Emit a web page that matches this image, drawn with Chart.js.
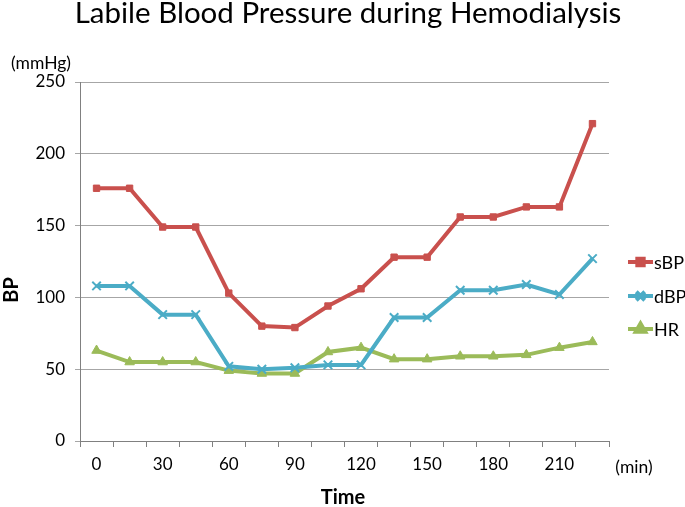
<!DOCTYPE html>
<html><head><meta charset="utf-8">
<script src="https://cdn.jsdelivr.net/npm/chart.js@4"></script>
<style>html,body{margin:0;padding:0;background:#fff}canvas{display:block}</style>
</head><body>
<canvas id="c" width="685" height="507"></canvas>
<script>
const timeLabels = ['0','15','30','45','60','75','90','105','120','135','150','165','180','195','210','225'];
const sBP = [176,176,149,149,103,80,79,94,106,128,128,156,156,163,163,221];
const dBP = [108,108,88,88,52,50,51,53,53,86,86,105,105,109,102,127];
const HR  = [63,55,55,55,49,47,47,62,65,57,57,59,59,60,65,69];
const yTicks = [0,50,100,150,200,250];

const FONT = 'Lato, "Open Sans", sans-serif';
const C_S = '#C9504D', C_D = '#4BACC6', C_H = '#9BBB59';

const series = [
  {label:'sBP', data:sBP, color:C_S, style:'rect', radius:4.5, bw:1},
  {label:'dBP', data:dBP, color:C_D, style:'crossRot', radius:6, bw:2},
  {label:'HR', data:HR, color:C_H, style:'triangle', radius:5.5, bw:1}
];

const extras = {
  id:'extras',
  afterDraw(chart){
    const ctx = chart.ctx;
    ctx.save();
    ctx.fillStyle = '#000';
    // title
    ctx.textAlign='center'; ctx.textBaseline='alphabetic';
    ctx.font = '29.5px ' + FONT;
    ctx.fillText('Labile Blood Pressure during Hemodialysis', 348, 23);
    ctx.textBaseline='middle';
    // units
    ctx.font = '17.5px ' + FONT;
    ctx.fillText('(mmHg)', 41, 63);
    ctx.fillText('(min)', 634, 467);
    // axis titles
    ctx.font = 'bold 20px ' + FONT;
    ctx.fillText('Time', 343, 498);
    ctx.save();
    ctx.translate(12, 290); ctx.rotate(-Math.PI/2);
    ctx.fillText('BP', 0, 0);
    ctx.restore();
    // legend
    const ys = [262, 296, 329];
    series.forEach((s,i)=>{
      const y = ys[i];
      ctx.strokeStyle = s.color; ctx.lineWidth = 4;
      ctx.beginPath(); ctx.moveTo(628,y); ctx.lineTo(653,y); ctx.stroke();
      ctx.fillStyle = s.color; ctx.strokeStyle = s.color;
      Chart.helpers.drawPoint(ctx, {pointStyle:s.style, radius:s.radius, borderWidth:s.bw, rotation:0}, 640.5, y);
      ctx.fillStyle='#000';
      ctx.font = '18px ' + FONT;
      ctx.textAlign='left';
      ctx.fillText(s.label, 654, y+1);
    });
    ctx.restore();
  }
};

new Chart(document.getElementById('c'), {
  type:'line',
  data:{
    labels: timeLabels,
    datasets: series.map(s=>({
      label:s.label, data:s.data,
      borderColor:s.color, backgroundColor:s.color,
      borderWidth:4, pointStyle:s.style, pointRadius:s.radius,
      pointBorderWidth:s.bw, pointBackgroundColor:s.color, pointBorderColor:s.color,
      tension:0, fill:false
    }))
  },
  options:{
    responsive:false, animation:false,
    layout:{padding:{top:82, right:76, left:0, bottom:0}},
    plugins:{legend:{display:false}, title:{display:false}, tooltip:{enabled:false}},
    scales:{
      x:{
        offset:true,
        grid:{offset:true, drawOnChartArea:false, drawTicks:true, tickLength:6, color:'#808080'},
        border:{color:'#808080', width:1},
        ticks:{autoSkip:false, maxRotation:0, padding:7, color:'#000', font:{family:FONT, size:17},
          callback:function(v,i){return i%2===0 ? this.getLabelForValue(v) : '';}},
        afterFit(scale){scale.height = 66;}
      },
      y:{
        min:0, max:250,
        afterBuildTicks(scale){scale.ticks = yTicks.map(v=>({value:v}));},
        grid:{color:'#A6A6A6', tickLength:5, drawTicks:true, lineWidth:1},
        border:{color:'#808080', width:1},
        ticks:{padding:10, color:'#000', font:{family:FONT, size:17}},
        afterFit(scale){scale.width = 80;}
      }
    }
  },
  plugins:[extras]
});
</script>
</body></html>
